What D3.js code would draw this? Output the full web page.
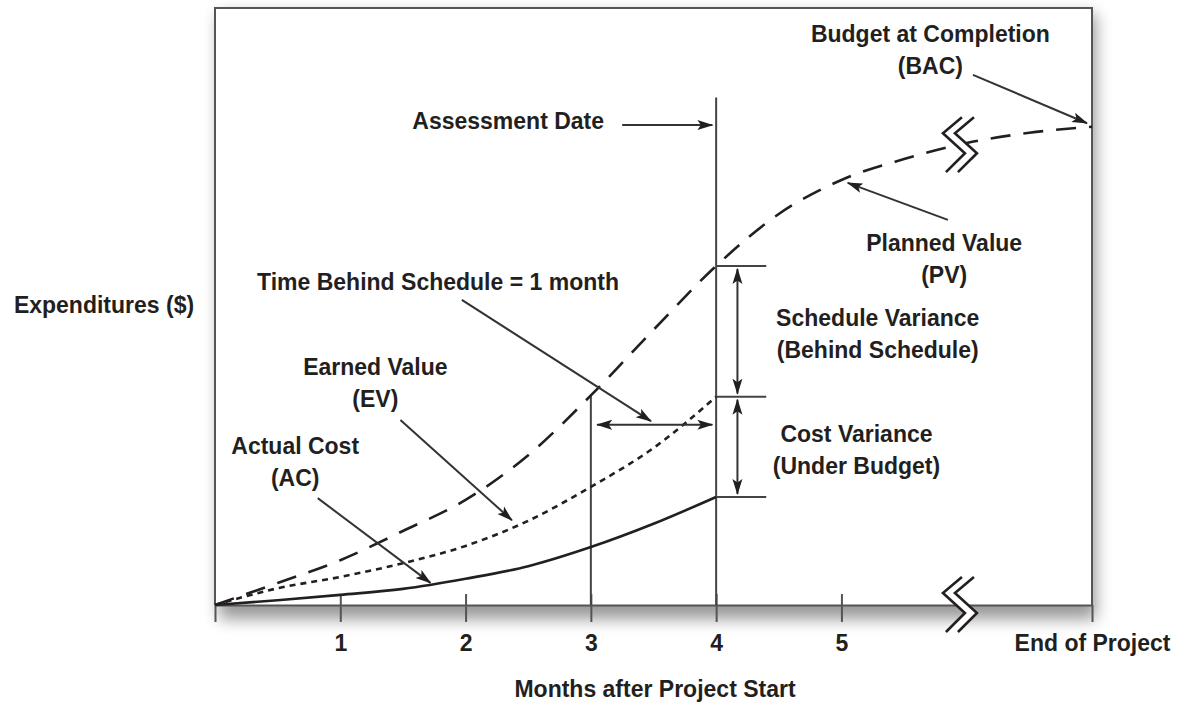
<!DOCTYPE html>
<html>
<head>
<meta charset="utf-8">
<script src="https://cdn.jsdelivr.net/npm/d3@7"></script>
<style>
  html, body { margin: 0; background: #fff; }
  svg text { font-weight: bold; fill: #231f20; }
</style>
</head>
<body>
<svg id="evm-chart" width="1177" height="706"></svg>
<script>
/* Earned value chart: PV / EV / AC curves against months after start. */

// values (expenditure in % of the plot height)
const months = [0, 0.5, 1, 1.5, 2, 2.5, 3, 3.5, 4, 4.5, 5, 5.5, 6, 6.5, 7];
const plannedValue = [0, 3.7, 7.5, 12.4, 17.6, 25.1, 35.1, 46.1, 56.8, 65.5, 71.2, 74.7, 77.4, 79.1, 80.1];
const progressMonths = [0, 0.5, 1, 1.5, 2, 2.5, 3, 3.5, 4];
const earnedValue = [0, 2.8, 4.7, 7.0, 9.9, 14.1, 19.8, 26.3, 34.9];
const actualCost = [0, 0.8, 1.7, 2.7, 4.4, 6.5, 9.7, 13.6, 18.1];

const tickMonths = [0, 1, 2, 3, 4, 5, 7];
const tickLabels = ['', '1', '2', '3', '4', '5', 'End of Project'];
const assessmentMonth = 4;
const breakMonth = 5.93;

// annotation labels, positioned in data units [month, value]
const labels = [
  { lines: ['Budget at Completion', '(BAC)'], at: [5.71, 94.3] },
  { lines: ['Assessment Date'], at: [2.34, 79.7] },
  { lines: ['Planned Value', '(PV)'], at: [5.82, 59.3] },
  { lines: ['Time Behind Schedule = 1 month'], at: [1.78, 52.8] },
  { lines: ['Schedule Variance', '(Behind Schedule)'], at: [5.29, 46.7] },
  { lines: ['Earned Value', '(EV)'], at: [1.28, 38.5] },
  { lines: ['Cost Variance', '(Under Budget)'], at: [5.12, 27.3] },
  { lines: ['Actual Cost', '(AC)'], at: [0.64, 25.3] }
];
// pointer arrows [from, to] in data units
const pointers = [
  [[3.25, 80.4], [3.97, 80.4]],
  [[6.05, 88.8], [6.96, 80.7]],
  [[5.85, 64.5], [5.05, 70.7]],
  [[1.97, 51.1], [3.48, 30.8]],
  [[1.48, 31.0], [2.37, 14.2]],
  [[0.82, 17.9], [1.72, 3.7]]
];

const svg = d3.select('#evm-chart');
const x = d3.scaleLinear().domain([0, 7]).range([215, 1092]);
const y = d3.scaleLinear().domain([0, 100]).range([605, 8]);
const pvAt = d3.scaleLinear().domain(months).range(plannedValue);
const evAt = d3.scaleLinear().domain(progressMonths).range(earnedValue);
const acAt = d3.scaleLinear().domain(progressMonths).range(actualCost);
const ink = '#231f20';

// the original uses a tall condensed face; use the narrow Liberation cut when it is installed
const probe = svg.append('text').style('font-size', '40px').text('Expenditures ($)');
const fallbackWidth = probe.style('font-family', 'monospace').node().getComputedTextLength();
const narrowWidth = probe.style('font-family', '"Liberation Sans Narrow", monospace').node().getComputedTextLength();
probe.remove();
const hasNarrow = Math.abs(narrowWidth - fallbackWidth) > 1;
const fontFamily = hasNarrow ? '"Liberation Sans Narrow", "Liberation Sans", Arial, sans-serif' : '"Liberation Sans", Arial, sans-serif';
const fontSize = hasNarrow ? '26.5px' : '23px';
const letterSpacing = hasNarrow ? '0.4px' : '0px';

const defs = svg.append('defs');
const shadow = defs.append('filter').attr('id', 'frame-shadow')
  .attr('x', '-10%').attr('y', '-10%').attr('width', '120%').attr('height', '125%');
shadow.append('feGaussianBlur').attr('stdDeviation', 8);

defs.append('marker')
  .attr('id', 'arrow-head')
  .attr('markerUnits', 'userSpaceOnUse')
  .attr('viewBox', '0 0 16 11')
  .attr('markerWidth', 16).attr('markerHeight', 11)
  .attr('refX', 15).attr('refY', 5.5)
  .attr('orient', 'auto-start-reverse')
  .append('path')
  .attr('d', 'M0,0.5 L16,5.5 L0,10.5 L3.5,5.5 Z')
  .attr('fill', ink);

// frame with soft drop shadow
svg.append('rect')
  .attr('x', x(0) + 4).attr('y', y(100) + 6)
  .attr('width', x(7) - x(0)).attr('height', y(0) - y(100) + 8)
  .attr('fill', '#000').attr('opacity', 0.4)
  .attr('filter', 'url(#frame-shadow)');
svg.append('rect')
  .attr('x', x(0)).attr('y', y(100))
  .attr('width', x(7) - x(0)).attr('height', y(0) - y(100))
  .attr('fill', '#fff');
svg.append('path')
  .attr('d', `M${x(0)},${y(0)} V${y(100)} H${x(7)} V${y(0)}`)
  .attr('fill', 'none').attr('stroke', '#555').attr('stroke-width', 2);

// x axis
const axis = svg.append('g')
  .attr('transform', `translate(0,${y(0)})`)
  .call(d3.axisBottom(x).tickValues(tickMonths).tickFormat((d, i) => tickLabels[i]).tickSizeInner(17).tickSizeOuter(0));
axis.attr('font-size', null).attr('font-family', null);
axis.select('.domain').attr('stroke', '#555').attr('stroke-width', 2);
axis.selectAll('.tick line').attr('y1', d => (d === 0 || d === 7) ? 0 : -11).attr('stroke', '#555').attr('stroke-width', 2);
axis.selectAll('.tick text').attr('y', 46).attr('dy', null)
  .style('font-family', fontFamily).style('font-size', fontSize).style('letter-spacing', letterSpacing)
  .attr('fill', ink);

// reference lines at month 3 and the assessment date
const guides = svg.append('g').attr('stroke', '#444').attr('stroke-width', 2);
guides.append('line').attr('x1', x(3)).attr('x2', x(3)).attr('y1', y(pvAt(3))).attr('y2', y(0));
guides.append('line').attr('x1', x(assessmentMonth)).attr('x2', x(assessmentMonth)).attr('y1', y(85)).attr('y2', y(0));
guides.selectAll('.level')
  .data([pvAt(assessmentMonth), evAt(assessmentMonth), acAt(assessmentMonth)])
  .join('line')
  .attr('class', 'level')
  .attr('x1', x(assessmentMonth)).attr('x2', x(assessmentMonth + 0.4))
  .attr('y1', d => y(d)).attr('y2', d => y(d));

// curves
const line = d3.line().x(d => x(d[0])).y(d => y(d[1])).curve(d3.curveMonotoneX);
svg.append('path')
  .datum(months.map((m, i) => [m, plannedValue[i]]))
  .attr('d', line).attr('fill', 'none').attr('stroke', ink)
  .attr('stroke-width', 2.6).attr('stroke-dasharray', '20 13');
svg.append('path')
  .datum(progressMonths.map((m, i) => [m, earnedValue[i]]))
  .attr('d', line).attr('fill', 'none').attr('stroke', ink)
  .attr('stroke-width', 2.6).attr('stroke-dasharray', '6 5');
svg.append('path')
  .datum(progressMonths.map((m, i) => [m, actualCost[i]]))
  .attr('d', line).attr('fill', 'none').attr('stroke', ink)
  .attr('stroke-width', 2.6);

// break markers on the PV curve and the axis
const zig = [[4, -28], [-15, -12], [7, 8], [-12, 27]];
const zag = zig.map(p => [p[0] + 12, p[1]]);
[[breakMonth, pvAt(breakMonth)], [breakMonth, 0]].forEach(([m, v]) => {
  const g = svg.append('g').attr('transform', `translate(${x(m)},${y(v)})`);
  g.append('polygon').attr('points', zig.concat(zag.slice().reverse()).join(' ')).attr('fill', '#fff');
  [zig, zag].forEach(pts => g.append('polyline')
    .attr('points', pts.join(' '))
    .attr('fill', 'none').attr('stroke', ink).attr('stroke-width', 2.6));
});

// variance and schedule arrows
const arrows = svg.append('g').attr('stroke', '#333').attr('stroke-width', 2)
  .attr('marker-end', 'url(#arrow-head)');
const varX = x(assessmentMonth + 0.17);
arrows.append('line').attr('marker-start', 'url(#arrow-head)')
  .attr('x1', varX).attr('x2', varX)
  .attr('y1', y(pvAt(assessmentMonth)) + 3).attr('y2', y(evAt(assessmentMonth)) - 3);
arrows.append('line').attr('marker-start', 'url(#arrow-head)')
  .attr('x1', varX).attr('x2', varX)
  .attr('y1', y(evAt(assessmentMonth)) + 3).attr('y2', y(acAt(assessmentMonth)) - 3);
arrows.append('line').attr('marker-start', 'url(#arrow-head)')
  .attr('x1', x(3.05)).attr('x2', x(3.97))
  .attr('y1', y(30.2)).attr('y2', y(30.2));
arrows.selectAll('.pointer')
  .data(pointers)
  .join('line')
  .attr('class', 'pointer')
  .attr('x1', d => x(d[0][0])).attr('y1', d => y(d[0][1]))
  .attr('x2', d => x(d[1][0])).attr('y2', d => y(d[1][1]));

// labels
const text = svg.append('g').attr('text-anchor', 'middle')
  .style('font-family', fontFamily).style('font-size', fontSize).style('letter-spacing', letterSpacing);
labels.forEach(l => {
  const t = text.append('text').attr('x', x(l.at[0])).attr('y', y(l.at[1]));
  l.lines.forEach((s, i) => t.append('tspan').attr('x', x(l.at[0])).attr('dy', i ? 32 : 0).text(s));
});
text.append('text').attr('x', 104).attr('y', 313).text('Expenditures ($)');
text.append('text').attr('x', 655).attr('y', 697).text('Months after Project Start');
</script>
</body>
</html>
